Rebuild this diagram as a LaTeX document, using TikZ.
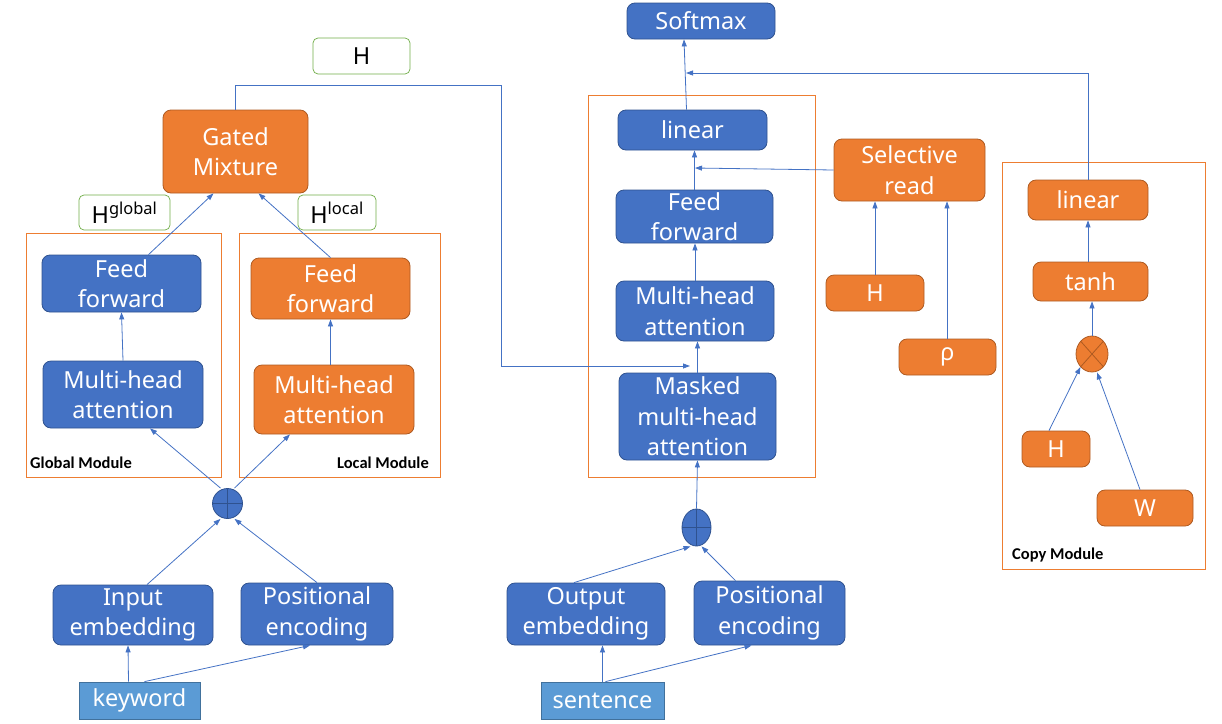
\documentclass[tikz,border=0pt]{standalone}
\usepackage{fontspec}
\setmainfont{Noto Sans}
\newfontfamily\modfont{Carlito}
\usetikzlibrary{arrows.meta,shapes.geometric}
\definecolor{myblue}{HTML}{4472C4}
\definecolor{mybluedark}{HTML}{2F528F}
\definecolor{myorange}{HTML}{ED7D31}
\definecolor{myorangedark}{HTML}{AE5A21}
\definecolor{mylight}{HTML}{5B9BD5}
\definecolor{mylightdark}{HTML}{41719C}
\definecolor{mygreen}{HTML}{70AD47}
\tikzset{
  boxbase/.style={rounded corners=8pt, inner sep=0pt, align=center, text=white,
    font=\fontsize{23.5}{30.5}\selectfont, line width=0.8pt},
  bbox/.style={boxbase, fill=myblue, draw=mybluedark},
  obox/.style={boxbase, fill=myorange, draw=myorangedark},
  kbox/.style={boxbase, rounded corners=0pt, fill=mylight, draw=mylightdark},
  gbox/.style={rounded corners=5pt, inner sep=0pt, align=center, text=black,
    font=\fontsize{23.5}{30}\selectfont, draw=mygreen, fill=white, line width=0.7pt},
  frame/.style={draw=myorange, line width=0.8pt, inner sep=0pt},
  modlabel/.style={font=\modfont\bfseries\fontsize{16.5}{19}\selectfont, inner sep=0pt},
  conn/.style={draw=myblue, line width=0.8pt},
  arr/.style={conn, -{Triangle[width=5pt,length=7pt]}},
  sz/.style 2 args={minimum width=#1pt, minimum height=#2pt},
  plusnode/.style={ellipse, fill=myblue, draw=mybluedark, inner sep=0pt, line width=0.8pt,
    path picture={\draw[mybluedark, line width=0.8pt]
      (path picture bounding box.north) -- (path picture bounding box.south)
      (path picture bounding box.west) -- (path picture bounding box.east);}},
  timesnode/.style={ellipse, fill=myorange, draw=myorangedark, inner sep=0pt, line width=0.8pt,
    path picture={\draw[myorangedark, line width=0.8pt]
      (path picture bounding box.north west) -- (path picture bounding box.south east)
      (path picture bounding box.south west) -- (path picture bounding box.north east);}}
}
\begin{document}
\begin{tikzpicture}[x=1pt,y=-1pt]
\useasboundingbox (0,0) rectangle (1222,723);
% frames
\node[frame, sz={195}{244}] (gframe) at (123.5,355) {};
\node[frame, sz={201}{244}] (lframe) at (339.5,355) {};
\node[frame, sz={227}{382}] (dframe) at (701.5,286) {};
\node[frame, sz={203}{407}] (cframe) at (1103.5,365.5) {};
\node[modlabel, anchor=west] (glab) at (30,463) {Global Module};
\node[modlabel, anchor=east] (llab) at (429,463) {Local Module};
\node[modlabel, anchor=west] (clab) at (1012,555) {Copy Module};
% left encoder
\node[bbox, sz={148}{36}] (soft) at (701,21) {Softmax};
\node[gbox, sz={97}{36}] (Hlab) at (361.5,56) {H};
\node[obox, sz={145}{83}] (gm) at (235.5,151.5) {Gated\\Mixture};
\node[gbox, sz={91}{35}] (hg) at (124.5,212.5) {H\textsuperscript{global}};
\node[gbox, sz={78}{35}] (hl) at (337,212.5) {H\textsuperscript{local}};
\node[bbox, sz={159}{57}] (gff) at (121.5,283.5) {Feed\\forward};
\node[bbox, sz={160}{67}] (gmha) at (123,394.5) {Multi-head\\attention};
\node[obox, sz={159}{61}] (lff) at (330.5,288.5) {Feed\\forward};
\node[obox, sz={160}{69}] (lmha) at (334,399.5) {Multi-head\\attention};
\node[plusnode, sz={30}{30}] (plusL) at (227.5,503.5) {};
\node[bbox, sz={160}{60}] (inemb) at (133,615) {Input\\embedding};
\node[bbox, sz={152}{62}] (posL) at (317,614) {Positional\\encoding};
\node[kbox, sz={121}{37}] (kw) at (139.5,700.5) {keyword};
% decoder
\node[bbox, sz={149}{40}] (lin) at (692.5,130) {linear};
\node[bbox, sz={157}{53}] (rff) at (694.5,216.5) {Feed\\forward};
\node[bbox, sz={158}{60}] (rmha) at (695,311) {Multi-head\\attention};
\node[bbox, sz={157}{87}] (mmha) at (697.5,416.5) {Masked\\multi-head\\attention};
\node[plusnode, sz={29}{37}] (plusR) at (696.5,527.5) {};
\node[bbox, sz={158}{62}] (outemb) at (586,614) {Output\\embedding};
\node[bbox, sz={151}{64}] (posR) at (769.5,613) {Positional\\encoding};
\node[kbox, sz={123}{37}] (sent) at (602.5,700.5) {sentence};
% selective read
\node[obox, sz={151}{62}] (sel) at (909.5,170) {Selective\\read};
\node[obox, sz={98}{36}] (Ho) at (875,293) {H};
\node[obox, sz={97}{36}] (rho) at (947.5,357) {ρ};
% copy module
\node[obox, sz={120}{40}] (clin) at (1088,200) {linear};
\node[obox, sz={115}{39}] (tanh) at (1090.5,281.5) {tanh};
\node[timesnode, sz={32}{36}] (times) at (1092,354) {};
\node[obox, sz={68}{36}] (Hs) at (1056,449) {H};
\node[obox, sz={96}{36}] (W) at (1145,508) {W};
% connectors: encoder
\draw[arr] (gmha.north) -- (gff.south);
\draw[arr] (lmha.north -| lff.south) -- (lff.south);
\draw[arr] ([xshift=27pt]gff.north) -- ([xshift=-22pt]gm.south);
\draw[arr] (lff.north) -- ([xshift=23pt]gm.south);
\draw[arr] ([xshift=-7pt]plusL.north) -- ([xshift=27pt]gmha.south);
\draw[arr] ([xshift=7pt]plusL.north) -- ([xshift=-44pt]lmha.south);
\draw[arr] ([xshift=14pt]inemb.north) -- ([xshift=-7pt]plusL.south);
\draw[arr] (posL.north) -- ([xshift=7pt]plusL.south);
\draw[arr] ([xshift=-11pt]kw.north) -- ([xshift=-5pt]inemb.south);
\draw[arr] ([xshift=5pt]kw.north) -- ([xshift=-7pt]posL.south);
% H path from gated mixture to decoder
\coordinate (hjoin) at (690,366);
\draw[arr] (gm.north) |- (501,85) |- (hjoin);
% decoder connectors
\draw[arr] (plusR.north) -- (mmha.south);
\draw[arr] ([xshift=-12pt]outemb.north) -- ([xshift=-6pt]plusR.south);
\draw[arr] ([xshift=-34pt]posR.north) -- ([xshift=5pt]plusR.south);
\draw[arr] (sent.north) -- (sent.north |- outemb.south);
\draw[arr] ([xshift=3pt]sent.north) -- ([xshift=-18pt]posR.south);
\draw[arr] (mmha.north) -- (mmha.north |- rmha.south);
\draw[arr] (rmha.north) -- (rmha.north |- rff.south);
\draw[arr] (rff.north) -- (rff.north |- lin.south);
\coordinate (seljoin) at (695,168);
\draw[arr] (sel.west) -- (seljoin);
\draw[arr] ([xshift=-6pt]lin.north) -- ([xshift=-17pt]soft.south);
\coordinate (copyjoin) at (686,73);
\draw[arr] (clin.north) |- (copyjoin);
\draw[arr] (Ho.north) -- (Ho.north |- sel.south);
\coordinate (rhotop) at (947,339);
\draw[arr] (rhotop) -- (rhotop |- sel.south);
\draw[arr] (clin.south |- tanh.north) -- (clin.south);
\draw[arr] (times.north) -- (times.north |- tanh.south);
\draw[arr] ([xshift=-7pt]Hs.north) -- (times.south west);
\draw[arr] ([xshift=-5pt]W.north) -- ([xshift=5pt]times.south);
\end{tikzpicture}
\end{document}
